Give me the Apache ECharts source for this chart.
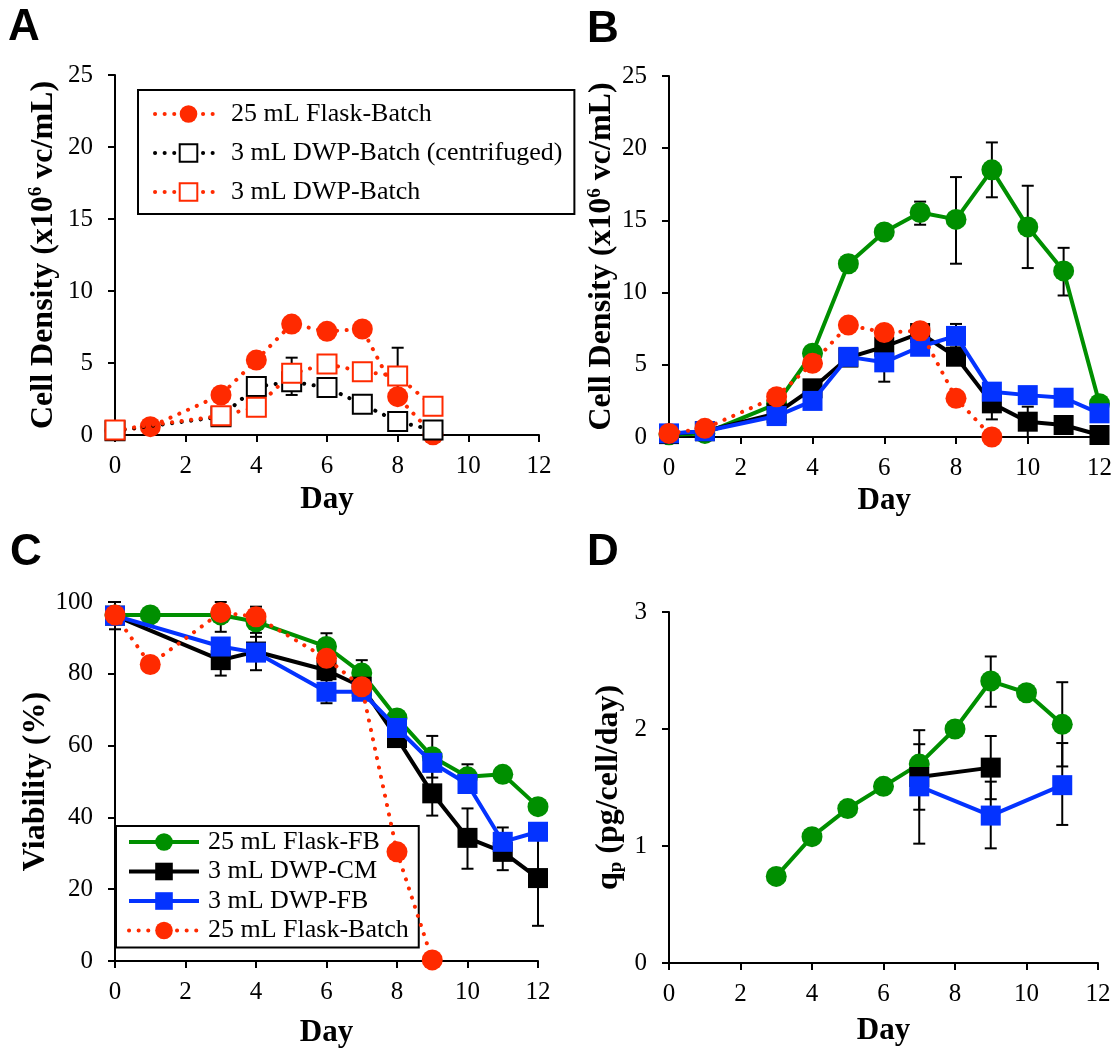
<!DOCTYPE html>
<html><head><meta charset="utf-8">
<script src="https://cdn.jsdelivr.net/npm/echarts@6/dist/echarts.min.js"></script>
<style>html,body{margin:0;padding:0;background:#fff}#c{width:1115px;height:1061px}</style>
</head><body><div id="c"></div>
<script>
// ---------- Data ----------
const xTicks = [0, 2, 4, 6, 8, 10, 12];
// Panel A
const aFlaskBatchDays = [0, 1, 3, 4, 5, 6, 7, 8, 9];
const aFlaskBatch = [0.3, 0.58, 2.78, 5.2, 7.7, 7.2, 7.36, 2.66, 0.02];
const aCentDays = [0, 3, 4, 5, 6, 7, 8, 9];
const aCent = [0.3, 1.27, 3.36, 3.7, 3.3, 2.13, 0.93, 0.35];
const aDwpDays = [0, 3, 4, 5, 6, 7, 8, 9];
const aDwp = [0.35, 1.34, 1.92, 4.28, 4.93, 4.4, 4.1, 2.0];
const aErr = [[5, 2.78, 5.37], [8, 2.2, 6.06]];
// Panel B
const bDays = [0, 1, 3, 4, 5, 6, 7, 8, 9, 10, 11, 12];
const bFlaskFB = [0.15, 0.25, 2.3, 5.8, 12.0, 14.2, 15.55, 15.07, 18.5, 14.55, 11.5, 2.3];
const bCM = [0.2, 0.4, 1.64, 3.37, 5.5, 6.25, 7.2, 5.56, 2.33, 1.06, 0.83, 0.14];
const bFB = [0.25, 0.4, 1.45, 2.5, 5.55, 5.17, 6.25, 7.0, 3.14, 2.9, 2.72, 1.64];
const bBatchDays = [0, 1, 3, 4, 5, 6, 7, 8, 9];
const bBatch = [0.25, 0.6, 2.79, 5.1, 7.75, 7.24, 7.36, 2.68, 0.0];
const bErr = [[5, 11.5, 12.5], [6, 3.83, 6.5], [7, 14.7, 16.3], [7, 6.6, 7.87], [8, 12.0, 18.0], [8, 6.2, 7.83],
  [9, 16.6, 20.4], [9, 1.22, 3.4], [10, 11.7, 17.4], [10, 0.0, 2.1], [11, 9.8, 13.1]];
// Panel C
const cFBDays = [0, 1, 3, 4, 6, 7, 8, 9, 10, 11, 12];
const cFB = [96.4, 96.4, 96.4, 94.5, 87.6, 80.2, 67.7, 56.9, 51.3, 52.0, 43.0];
const cDwpDays = [0, 3, 4, 6, 7, 8, 9, 10, 11, 12];
const cCM = [96.2, 83.8, 86.2, 81.0, 76.4, 62.1, 46.7, 34.3, 30.4, 23.1];
const cDFB = [96.2, 87.6, 85.9, 75.0, 75.0, 64.9, 55.2, 49.3, 33.2, 36.0];
const cBatchDays = [0, 1, 3, 4, 6, 7, 8, 9];
const cBatch = [96.4, 82.6, 97.1, 95.9, 84.3, 76.4, 30.4, 0.3];
const cErr = [[0, 92.4, 100], [3, 91.7, 100], [3, 79.5, 88.1], [4, 90.3, 98.7], [4, 81.0, 91.4], [6, 83.9, 91.3], [6, 71.8, 78.2],
  [7, 76.6, 83.8], [9, 51.1, 62.7], [9, 40.5, 52.9], [10, 47.8, 54.8], [10, 25.7, 42.5], [11, 25.3, 35.5], [11, 29.2, 37.2], [12, 9.8, 36.4]];
// Panel D
const dFBDays = [3, 4, 5, 6, 7, 8, 9, 10, 11];
const dFB = [0.74, 1.08, 1.32, 1.51, 1.70, 2.0, 2.41, 2.31, 2.04];
const dCMDays = [7, 9];
const dCM = [1.59, 1.67];
const dDFBDays = [7, 9, 11];
const dDFB = [1.51, 1.26, 1.52];
const dErr = [[7, 1.02, 1.99], [7, 1.31, 1.87], [9, 2.19, 2.62], [9, 1.40, 1.94], [9, 0.98, 1.55], [11, 1.68, 2.40], [11, 1.18, 1.88]];

// ---------- Styles ----------
const SERIF = 'Liberation Serif';
const RED = '#FF2A00', GREEN = '#008F00', BLUE = '#0433FF', BLACK = '#000000';
const zip = (xs, ys) => xs.map((x, i) => [x, ys[i]]);
const TICK_FS = 25, NAME_FS = 32;

function axisX(gi, gap) {
  return {
    type: 'value', gridIndex: gi, min: 0, max: 12, interval: 2,
    name: 'Day', nameLocation: 'middle', nameGap: gap,
    nameTextStyle: { fontFamily: SERIF, fontWeight: 'bold', fontSize: 31, color: '#000' },
    axisLine: { show: true, onZero: false, lineStyle: { color: '#000', width: 2 } },
    axisTick: { show: true, inside: false, length: 7, lineStyle: { color: '#000', width: 2 } },
    axisLabel: { fontFamily: SERIF, fontSize: TICK_FS, color: '#000', margin: 19 },
    splitLine: { show: false }
  };
}
function axisY(gi, max, interval, name, gap, rich) {
  return {
    type: 'value', gridIndex: gi, min: 0, max: max, interval: interval,
    name: name, nameLocation: 'middle', nameGap: gap,
    nameTextStyle: Object.assign({ fontFamily: SERIF, fontWeight: 'bold', fontSize: NAME_FS, color: '#000' }, rich ? { rich: rich } : {}),
    axisLine: { show: true, onZero: false, lineStyle: { color: '#000', width: 2 } },
    axisTick: { show: true, inside: false, length: 7, lineStyle: { color: '#000', width: 2 } },
    axisLabel: { fontFamily: SERIF, fontSize: TICK_FS, color: '#000', margin: 22 },
    splitLine: { show: false }
  };
}
function lineSeries(name, gi, data, opts) {
  const dotted = opts.dotted;
  return {
    type: 'line', name: name, xAxisIndex: gi, yAxisIndex: gi, data: data,
    symbol: opts.symbol, symbolSize: opts.size || 21,
    itemStyle: opts.hollow ? { color: '#fff', borderColor: opts.color, borderWidth: 2 } : { color: opts.color, borderColor: opts.color, borderWidth: 0 },
    lineStyle: dotted ? { color: opts.color, width: 4, type: [0.1, 9.5], cap: 'round' } : { color: opts.color, width: 4 },
    z: opts.z || 3, animation: false, silent: true
  };
}
function errSeries(gi, data) {
  return {
    type: 'custom', xAxisIndex: gi, yAxisIndex: gi, data: data, z: 2, silent: true, animation: false,
    encode: { x: 0, y: [1, 2] },
    renderItem: function (params, api) {
      const x = api.value(0), lo = api.value(1), hi = api.value(2);
      const p1 = api.coord([x, lo]), p2 = api.coord([x, hi]);
      const w = 6;
      const st = { stroke: '#000', lineWidth: 2 };
      return {
        type: 'group', children: [
          { type: 'line', shape: { x1: p1[0], y1: p1[1], x2: p2[0], y2: p2[1] }, style: st },
          { type: 'line', shape: { x1: p1[0] - w, y1: p1[1], x2: p1[0] + w, y2: p1[1] }, style: st },
          { type: 'line', shape: { x1: p2[0] - w, y1: p2[1], x2: p2[0] + w, y2: p2[1] }, style: st }
        ]
      };
    }
  };
}

const cellRich = {
  b: { fontFamily: SERIF, fontWeight: 'bold', fontSize: NAME_FS, color: '#000', lineHeight: 34 },
  s: { fontFamily: SERIF, fontWeight: 'bold', fontSize: 19, color: '#000', verticalAlign: 'top', lineHeight: 34, padding: [0, 0, 12, 0] }
};
const qpRich = {
  b: { fontFamily: SERIF, fontWeight: 'bold', fontSize: NAME_FS, color: '#000', lineHeight: 34 },
  sub: { fontFamily: SERIF, fontWeight: 'bold', fontSize: 19, color: '#000', verticalAlign: 'bottom', lineHeight: 34, padding: [12, 0, 0, 0] }
};

const legendText = { fontFamily: SERIF, fontSize: 26, color: '#000', lineHeight: 26, padding: [0, 0, 0, 4] };
const legendLine = { width: 4 };
const letter = (t, left, top) => ({ type: 'text', left: left, top: top, style: { text: t, fontFamily: 'Liberation Sans', fontWeight: 'bold', fontSize: 44, fill: '#000' } });

const option = {
  backgroundColor: '#fff',
  animation: false,
  grid: [
    { left: 115, top: 75, width: 424, height: 360 },
    { left: 669, top: 76, width: 431, height: 361 },
    { left: 115, top: 602, width: 423, height: 359 },
    { left: 669, top: 612, width: 429, height: 351 }
  ],
  xAxis: [axisX(0, 49), axisX(1, 48), axisX(2, 56), axisX(3, 52)],
  yAxis: [
    axisY(0, 25, 5, '{b|Cell Density (x10}{s|6}{b| vc/mL)}', 54, cellRich),
    axisY(1, 25, 5, '{b|Cell Density (x10}{s|6}{b| vc/mL)}', 48, cellRich),
    axisY(2, 100, 20, 'Viability (%)', 56, null),
    axisY(3, 3, 1, '{b|q}{sub|p}{b| (pg/cell/day)}', 43, qpRich)
  ],
  legend: [
    {
      left: 138, top: 90, orient: 'vertical', itemWidth: 67, itemHeight: 22, itemGap: 13,
      padding: [11, 12, 9, 15], borderColor: '#000', borderWidth: 2, selectedMode: false,
      textStyle: legendText, lineStyle: legendLine,
      data: ['25 mL Flask-Batch', '3 mL DWP-Batch (centrifuged)', '3 mL DWP-Batch']
    },
    {
      left: 116, top: 826, orient: 'vertical', itemWidth: 70, itemHeight: 22, itemGap: 3.5,
      padding: [3, 10, 4, 11], borderColor: '#000', borderWidth: 2, selectedMode: false,
      textStyle: legendText, lineStyle: legendLine,
      data: ['25 mL Flask-FB', '3 mL DWP-CM', '3 mL DWP-FB', '25 mL Flask-Batch']
    }
  ],
  graphic: [
    letter('A', 8, 6),
    letter('B', 587, 8),
    letter('C', 10, 531),
    letter('D', 587, 531)
  ],
  series: [
    // Panel A
    errSeries(0, aErr),
    lineSeries('25 mL Flask-Batch', 0, zip(aFlaskBatchDays, aFlaskBatch), { symbol: 'circle', color: RED, dotted: true, z: 3 }),
    lineSeries('3 mL DWP-Batch (centrifuged)', 0, zip(aCentDays, aCent), { symbol: 'rect', color: BLACK, hollow: true, dotted: true, size: 19, z: 4 }),
    lineSeries('3 mL DWP-Batch', 0, zip(aDwpDays, aDwp), { symbol: 'rect', color: RED, hollow: true, dotted: true, size: 19, z: 5 }),
    // Panel B
    errSeries(1, bErr),
    lineSeries('25 mL Flask-FB', 1, zip(bDays, bFlaskFB), { symbol: 'circle', color: GREEN, z: 3 }),
    lineSeries('3 mL DWP-CM', 1, zip(bDays, bCM), { symbol: 'rect', color: BLACK, size: 20, z: 4 }),
    lineSeries('3 mL DWP-FB', 1, zip(bDays, bFB), { symbol: 'rect', color: BLUE, size: 20, z: 5 }),
    lineSeries('25 mL Flask-Batch', 1, zip(bBatchDays, bBatch), { symbol: 'circle', color: RED, dotted: true, z: 6 }),
    // Panel C
    errSeries(2, cErr),
    lineSeries('25 mL Flask-FB', 2, zip(cFBDays, cFB), { symbol: 'circle', color: GREEN, z: 3 }),
    lineSeries('3 mL DWP-CM', 2, zip(cDwpDays, cCM), { symbol: 'rect', color: BLACK, size: 20, z: 4 }),
    lineSeries('3 mL DWP-FB', 2, zip(cDwpDays, cDFB), { symbol: 'rect', color: BLUE, size: 20, z: 5 }),
    lineSeries('25 mL Flask-Batch', 2, zip(cBatchDays, cBatch), { symbol: 'circle', color: RED, dotted: true, z: 6 }),
    // Panel D
    errSeries(3, dErr),
    lineSeries('25 mL Flask-FB', 3, zip(dFBDays, dFB), { symbol: 'circle', color: GREEN, z: 3 }),
    lineSeries('3 mL DWP-CM', 3, zip(dCMDays, dCM), { symbol: 'rect', color: BLACK, size: 20, z: 4 }),
    lineSeries('3 mL DWP-FB', 3, zip(dDFBDays, dDFB), { symbol: 'rect', color: BLUE, size: 20, z: 5 })
  ]
};

const chart = echarts.init(document.getElementById('c'), null, { renderer: 'canvas' });
chart.setOption(option);
</script>
</body></html>
